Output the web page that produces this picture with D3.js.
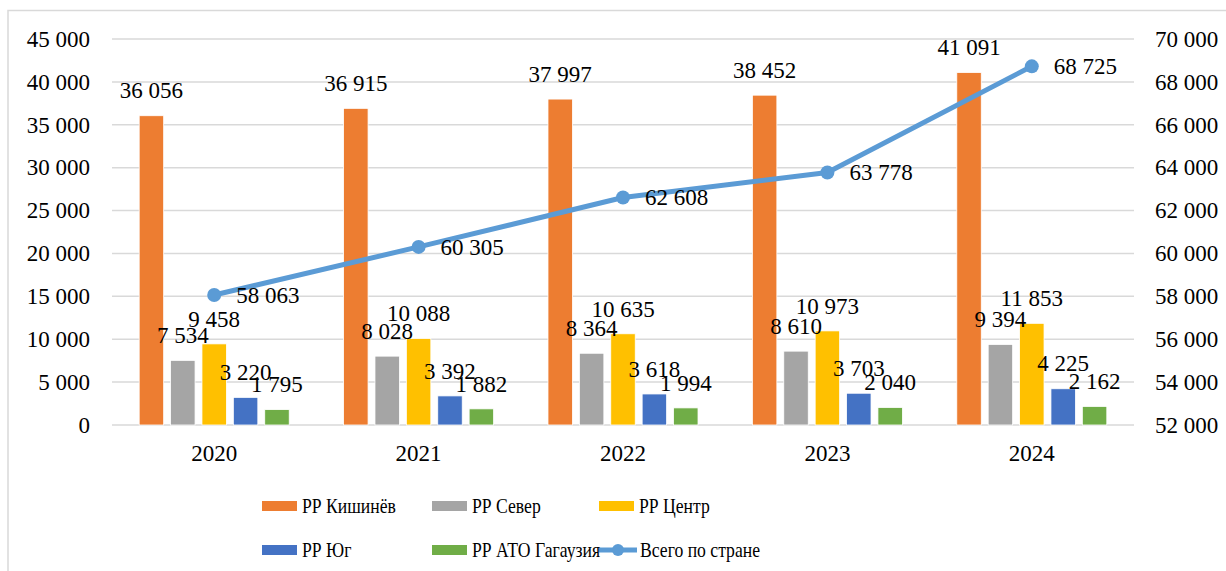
<!DOCTYPE html>
<html>
<head>
<meta charset="utf-8">
<style>
  html, body { margin: 0; padding: 0; background: #fff; }
  #wrap { position: relative; width: 1226px; height: 571px; }
  #wrap svg { position: absolute; left: 0; top: 0; }
  .lbl { position: absolute; white-space: nowrap; line-height: 1; color: #000;
         font-family: "Liberation Serif", "Times New Roman", serif; }
</style>
<script src="https://cdn.jsdelivr.net/npm/d3@7"></script>
</head>
<body>
<div id="wrap"><svg id="chart" width="1226" height="571"></svg></div>
<script>
// данные
const years = ["2020", "2021", "2022", "2023", "2024"];
const barSeries = ["РР Кишинёв", "РР Север", "РР Центр", "РР Юг", "РР АТО Гагаузия"];
const kishinev = [36056, 36915, 37997, 38452, 41091];
const sever = [7534, 8028, 8364, 8610, 9394];
const centr = [9458, 10088, 10635, 10973, 11853];
const yug = [3220, 3392, 3618, 3703, 4225];
const gagauzia = [1795, 1882, 1994, 2040, 2162];
const totalName = "Всего по стране";
const total = [58063, 60305, 62608, 63778, 68725];
const leftTicks = [0, 5000, 10000, 15000, 20000, 25000, 30000, 35000, 40000, 45000];
const rightTicks = [52000, 54000, 56000, 58000, 60000, 62000, 64000, 66000, 68000, 70000];

const barValues = [kishinev, sever, centr, yug, gagauzia];
const colors = ["#ED7D31", "#A5A5A5", "#FFC000", "#4472C4", "#70AD47"];
const lineColor = "#5B9BD5";

const fmt = (v) => d3.format(",")(v).replace(/,/g, " ");

const svg = d3.select("#chart");
const wrap = d3.select("#wrap");
const L = 112, R = 1134, T = 39, B = 425;

// текст рисуем html-блоками поверх svg (x, базовая линия y, выравнивание)
const shift = { start: "0", middle: "-50%", end: "-100%" };
function label(x, y, txt, size, anchor = "start", sx = 1) {
  return wrap.append("div").attr("class", "lbl")
    .style("left", x + "px").style("top", (y - 0.8375 * size) + "px")
    .style("font-size", size + "px")
    .style("transform", `translateX(${shift[anchor]}) scaleX(${sx})`)
    .style("transform-origin", "0 0")
    .text(txt);
}

// рамка
svg.append("path").attr("d", `M8,571 V10.5 H1226`).attr("fill", "none")
  .attr("stroke", "#d9d9d9").attr("stroke-width", 1.5);

const x0 = d3.scaleBand().domain(years).range([L, R]).paddingInner(0.266).paddingOuter(0.133);
const x1 = d3.scaleBand().domain(barSeries).range([0, x0.bandwidth()]).paddingInner(0.22);
const yL = d3.scaleLinear().domain([0, 45000]).range([B, T]);
const yR = d3.scaleLinear().domain([52000, 70000]).range([B, T]);
const cx = (i) => x0(years[i]) + x0.bandwidth() / 2;

// сетка
svg.append("g").selectAll("line").data(leftTicks).join("line")
  .attr("x1", L).attr("x2", R).attr("y1", (d) => yL(d)).attr("y2", (d) => yL(d))
  .attr("stroke", "#d9d9d9").attr("stroke-width", 1.5);

// подписи осей
leftTicks.forEach((d) => label(L - 22, yL(d) + 8, fmt(d), 23, "end"));
rightTicks.forEach((d) => label(R + 21, yR(d) + 8, fmt(d), 23));
years.forEach((d, i) => label(cx(i), B + 36, d, 23, "middle"));

// столбцы
const cells = years.flatMap((yr, i) => barSeries.map((s, j) => ({ yr, s, j, v: barValues[j][i] })));
svg.append("g").selectAll("rect").data(cells).join("rect")
  .attr("x", (d) => x0(d.yr) + x1(d.s)).attr("width", x1.bandwidth())
  .attr("y", (d) => yL(d.v)).attr("height", (d) => B - yL(d.v))
  .attr("fill", (d) => colors[d.j]).attr("stroke", "#fff").attr("stroke-width", 0.8);

// линия
const line = d3.line().x((d, i) => cx(i)).y((d) => yR(d));
svg.append("path").datum(total).attr("d", line).attr("fill", "none")
  .attr("stroke", lineColor).attr("stroke-width", 5).attr("stroke-linejoin", "round");
svg.append("g").selectAll("circle").data(total).join("circle")
  .attr("cx", (d, i) => cx(i)).attr("cy", (d) => yR(d))
  .attr("r", 7).attr("fill", lineColor);

// подписи столбцов и линии
cells.forEach((d) => label(x0(d.yr) + x1(d.s) + x1.bandwidth() / 2, yL(d.v) - 17, fmt(d.v), 23, "middle"));
total.forEach((d, i) => label(cx(i) + 22, yR(d) + 8, fmt(d), 23));

// легенда
const legendItems = barSeries.map((s, j) => ({ name: s, color: colors[j], kind: "bar" }))
  .concat([{ name: totalName, color: lineColor, kind: "line" }]);
const colX = [262, 432, 599], rowY = [506, 550];
legendItems.forEach((d, i) => {
  const lx = colX[i % 3], ly = rowY[Math.floor(i / 3)];
  const g = svg.append("g").attr("transform", `translate(${lx},${ly})`);
  if (d.kind === "bar") {
    g.append("rect").attr("x", 0).attr("y", -5).attr("width", 35).attr("height", 10).attr("fill", d.color);
  } else {
    g.append("line").attr("x1", 0).attr("x2", 38).attr("y1", 0).attr("y2", 0)
      .attr("stroke", d.color).attr("stroke-width", 5);
    g.append("circle").attr("cx", 19).attr("cy", 0).attr("r", 6).attr("fill", d.color);
  }
  // в оригинале легенда чуть сжата по горизонтали
  label(lx + (d.kind === "bar" ? 40 : 41), ly + 8, d.name, 21, "start", 0.84);
});
</script>
</body>
</html>
